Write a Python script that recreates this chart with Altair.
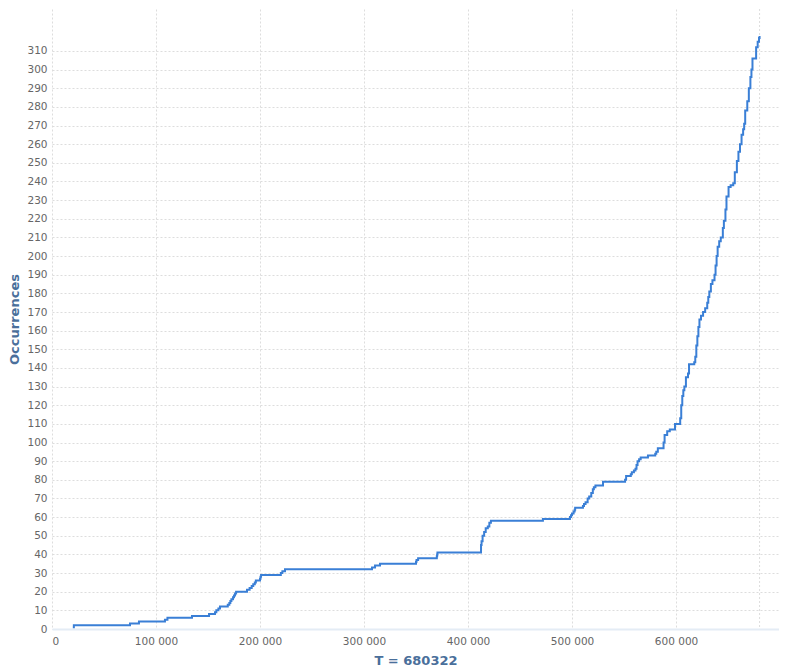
import altair as alt
import pandas as pd

# Event times (T) and cumulative occurrence counts after each jump
T_vals = [
    20000, 21000,
    75000, 83600,
    108600, 111000,
    134600,
    151000, 156700, 158000, 160000, 161500,
    169000, 170500, 171500, 172500, 174000, 175000, 176000, 177000,
    187500, 190000, 192000, 193500, 195000, 196000,
    200000, 200500, 201000,
    220000, 221500, 224000,
    307700, 310600, 315400,
    350000, 350500, 352000,
    370000, 370300, 370600,
    412500, 413000, 414000, 415500, 417000, 419000, 420500, 422000,
    472000,
    498000, 499000, 500000, 501500, 502500, 503000,
    510500, 511500, 513000, 515000, 516500, 518500, 520000, 521000, 522500,
    529800,
    551000, 552000,
    556500, 557500, 559500, 561000, 562000, 563000, 564500, 566000,
    573000,
    580000, 581000, 582500,
    588000, 589000, 591500, 594000,
    599000,
    604000, 605000, 606000, 607000, 608000, 609500, 611500, 612500,
    617500, 618500, 619500, 620500, 621500, 622500, 624000, 626000, 628000,
    630000, 631000, 632000, 633500, 635000, 637000, 638000, 639000, 640000,
    641500, 643000,
    645000, 646000, 647500, 648500, 650500, 652500, 655000, 656500, 658500,
    660000, 661500, 663000, 664500, 665500, 666500,
    668500, 670000, 671500, 672500, 673500,
    677000, 678500, 679800, 680322,
]
N_vals = [
    1, 2,
    3, 4,
    5, 6,
    7,
    8, 9, 10, 11, 12,
    13, 14, 15, 16, 17, 18, 19, 20,
    21, 22, 23, 24, 25, 26,
    27, 28, 29,
    30, 31, 32,
    33, 34, 35,
    36, 37, 38,
    39, 40, 41,
    45, 47, 50, 52, 54, 55, 57, 58,
    59,
    60, 61, 62, 63, 64, 65,
    66, 67, 68, 70, 71, 73, 75, 76, 77,
    79,
    80, 82,
    83, 84, 85, 86, 88, 90, 91, 92,
    93,
    94, 95, 97,
    100, 104, 106, 107,
    110,
    113, 120, 125, 128, 130, 135, 137, 142,
    143, 146, 152, 157, 162, 166, 168, 170, 172,
    175, 178, 181, 185, 187, 190, 195, 200, 205,
    208, 210,
    215, 219, 225, 232, 237, 238, 239, 245, 251,
    256, 260, 265, 268, 271, 278,
    283, 290, 296, 300, 306,
    312, 315, 317, 318,
]

T_total = 680322
x_ticks = [0, 100000, 200000, 300000, 400000, 500000, 600000]
y_ticks = list(range(0, 320, 10))

df = pd.DataFrame({"T": T_vals, "N": N_vals})
end_df = pd.DataFrame({"T": [T_total]})

title_color = "#4a6f9b"

x_scale = alt.Scale(domain=[0, 699000], nice=False, zero=True)
y_scale = alt.Scale(domain=[0, 332.5], nice=False)

end_rule = alt.Chart(end_df).mark_rule(
    color="#dddddd", strokeDash=[2, 2], strokeWidth=1
).encode(x=alt.X("T:Q", scale=x_scale))

line = alt.Chart(df).mark_line(
    interpolate="step-after", color="#3a7fd6", strokeWidth=2
).encode(
    x=alt.X(
        "T:Q",
        scale=x_scale,
        title=f"T = {T_total}",
        axis=alt.Axis(
            values=x_ticks,
            labelExpr="datum.value == 0 ? '0' : floor(datum.value / 1000) + ' 000'",
            grid=True,
            gridColor="#dddddd",
            gridDash=[2, 2],
            ticks=False,
            domain=True,
            domainColor="#e4ecf5",
            domainWidth=2,
            labelPadding=7,
            titlePadding=8,
        ),
    ),
    y=alt.Y(
        "N:Q",
        scale=y_scale,
        title="Occurrences",
        axis=alt.Axis(
            values=y_ticks,
            grid=True,
            gridColor="#dddddd",
            gridDash=[2, 2],
            ticks=False,
            domain=False,
            labelPadding=5,
            titlePadding=5,
        ),
    ),
)

chart = alt.layer(end_rule, line).properties(
    width=727, height=620, padding={"left": 0, "top": 0, "right": 0, "bottom": 0}
).configure_view(stroke=None).configure_axis(
    labelFont="DejaVu Sans",
    labelFontSize=10.5,
    labelColor="#666666",
    titleFont="DejaVu Sans",
    titleFontSize=13,
    titleFontWeight="bold",
    titleColor=title_color,
)

chart.save("out.html", embed_options={"renderer": "svg", "actions": False})
